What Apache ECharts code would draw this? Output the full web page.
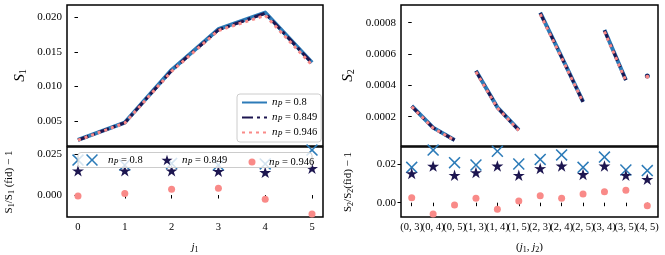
<!DOCTYPE html>
<html><head><meta charset="utf-8">
<script src="https://cdn.jsdelivr.net/npm/echarts@6/dist/echarts.min.js"></script>
<style>html,body{margin:0;padding:0;background:#fff}#c{width:665px;height:255px}</style>
</head><body><div id="c"></div>
<script>
// ---- data ----
const j1Values = [0, 1, 2, 3, 4, 5];
const nPValues = ['0.8', '0.849', '0.946'];
const S1_08  = [0.00225, 0.00478, 0.0124, 0.0183, 0.0207, 0.01345];
const S1_085 = [0.00224, 0.00476, 0.0123, 0.0182, 0.0206, 0.0134];
const S1_095 = [0.00222, 0.00470, 0.0122, 0.0181, 0.0203, 0.0131];
const R1_08  = [0.0213, 0.0183, 0.0193, 0.0183, 0.0190, 0.0274];
const R1_085 = [0.0148, 0.0148, 0.0148, 0.0145, 0.0138, 0.0163];
const R1_095 = [-0.0006, 0.0010, 0.0035, 0.0041, -0.0026, -0.0116];
const pairLabels = ['(0, 3)','(0, 4)','(0, 5)','(1, 3)','(1, 4)','(1, 5)','(2, 3)','(2, 4)','(2, 5)','(3, 4)','(3, 5)','(4, 5)'];
const pairJ1 = [0,0,0,1,1,1,2,2,2,3,3,4];
const S2_08  = [0.000268, 0.000130, 0.000051, 0.000493, 0.000260, 0.000115, 0.000864, 0.000582, 0.000296, 0.000753, 0.000434, 0.000460];
const S2_085 = [0.000266, 0.000129, 0.000050, 0.000491, 0.000258, 0.000114, 0.000862, 0.000580, 0.000295, 0.000751, 0.000433, 0.000459];
const S2_095 = [0.000263, 0.000127, 0.000049, 0.000486, 0.000255, 0.000112, 0.000854, 0.000575, 0.000292, 0.000744, 0.000428, 0.000455];
const R2_08  = [0.0183, 0.0272, 0.0207, 0.0195, 0.0266, 0.0200, 0.0224, 0.0247, 0.0183, 0.0236, 0.0169, 0.0166];
const R2_085 = [0.0151, 0.0189, 0.0142, 0.0156, 0.0190, 0.0142, 0.0177, 0.0190, 0.0146, 0.0190, 0.0142, 0.0121];
const R2_095 = [0.0026, -0.0058, -0.0012, 0.0023, -0.0034, 0.0009, 0.0036, 0.0023, 0.0045, 0.0057, 0.0064, -0.0016];
const S1Ticks = [0.005, 0.010, 0.015, 0.020];
const R1Ticks = [0.000, 0.025];
const S2Ticks = [0.0002, 0.0004, 0.0006, 0.0008];
const R2Ticks = [0.00, 0.02];

// ---- styles ----
const BLUE = '#2c7bb8', NAVY = '#1d1650', PINK = '#f98a88';
const FONT = 'Liberation Serif';
const xPath = 'path://M0,9L9,0L50,41L91,0L100,9L59,50L100,91L91,100L50,59L9,100L0,91L41,50Z';
function starPath() {
  let d = '';
  for (let i = 0; i < 10; i++) {
    const r = i % 2 ? 19 : 50;
    const a = (-90 + i * 36) * Math.PI / 180;
    d += (i ? 'L' : 'M') + (50 + r * Math.cos(a)).toFixed(2) + ',' + (50 + r * Math.sin(a)).toFixed(2);
  }
  return 'path://' + d + 'Z';
}
const STAR = starPath();

const chart = echarts.init(document.getElementById('c'), null, {renderer: 'canvas'});
const labelStyle = {fontFamily: FONT, fontSize: 11, color: '#000'};
const nameRich = {
  a: {fontFamily: FONT, fontSize: 15, fontStyle: 'italic', color: '#000'},
  b: {fontFamily: FONT, fontSize: 10, color: '#000', verticalAlign: 'bottom', padding: [6, 0, 0, 0]},
  c: {fontFamily: FONT, fontSize: 11, color: '#000'},
  ci: {fontFamily: FONT, fontSize: 11, fontStyle: 'italic', color: '#000'},
  cs: {fontFamily: FONT, fontSize: 8, color: '#000', padding: [5, 0, 0, 0]},
  n: {fontFamily: FONT, fontSize: 11, fontStyle: 'italic', color: '#000'},
  ns: {fontFamily: FONT, fontSize: 8, fontStyle: 'italic', color: '#000', padding: [5, 0, 0, 0]},
  v: {fontFamily: FONT, fontSize: 10.5, color: '#000'}
};
function mkY(gi, min, max, ticks, dec, nameStr, nameGap) {
  return {
    type: 'value', gridIndex: gi, min, max,
    axisLine: {show: false}, splitLine: {show: false},
    axisTick: {show: true, length: 3.5, lineStyle: {color: '#000', width: 1}, customValues: ticks},
    axisLabel: Object.assign({customValues: ticks, margin: 5, formatter: v => v.toFixed(dec)}, labelStyle),
    name: nameStr, nameLocation: 'middle', nameRotate: 90, nameGap,
    nameTextStyle: {rich: nameRich}
  };
}
function mkX(gi, min, max, ticks, show, fmt, nameStr) {
  return {
    type: 'value', gridIndex: gi, min, max,
    axisLine: {show: false}, splitLine: {show: false},
    axisTick: {show: show, length: 3.5, lineStyle: {color: '#000', width: 1}, customValues: ticks},
    axisLabel: Object.assign({show: show, customValues: ticks, margin: 5, formatter: fmt}, labelStyle, {fontSize: 10.5}),
    name: nameStr || '', nameLocation: 'middle', nameGap: 24,
    nameTextStyle: {rich: nameRich}
  };
}
const grids = [
  {left: 67, top: 5, width: 256, height: 141},
  {left: 67, top: 147, width: 256, height: 70},
  {left: 401, top: 5, width: 257, height: 141},
  {left: 401, top: 147, width: 257, height: 70}
].map(g => Object.assign({show: true, borderColor: '#000', borderWidth: 1.5, backgroundColor: 'transparent'}, g));

const jTickVals = j1Values.slice();
const pTickVals = pairLabels.map((_, i) => i);

const xAxes = [
  mkX(0, -0.235, 5.235, jTickVals, false, v => String(v)),
  mkX(1, -0.235, 5.235, jTickVals, true, v => String(Math.round(v)), '{ci|j}{cs|1}'),
  mkX(2, -0.5, 11.5, pTickVals, false, v => ''),
  {
    type: 'category', gridIndex: 3, data: pairLabels, boundaryGap: true,
    axisLine: {show: false}, splitLine: {show: false},
    axisTick: {show: true, alignWithLabel: true, interval: 0, length: 3.5, lineStyle: {color: '#000', width: 1}},
    axisLabel: Object.assign({interval: 0, margin: 5}, labelStyle, {fontSize: 10.5}),
    name: '{c|(}{ci|j}{cs|1}{c|, }{ci|j}{cs|2}{c|)}', nameLocation: 'middle', nameGap: 24,
    nameTextStyle: {rich: nameRich}
  }
];
const yAxes = [
  mkY(0, 0.00138, 0.0218, S1Ticks, 3, '{a|S}{b|1}', 39),
  mkY(1, -0.0134, 0.0293, R1Ticks, 3, '{c|S}{cs|1}{c|/S}{cs|1}{c| (fid) − 1}', 51),
  mkY(2, 0.0000128, 0.000913, S2Ticks, 4, '{a|S}{b|2}', 45),
  mkY(3, -0.0074, 0.0288, R2Ticks, 2, '{c|S}{cs|2}{c|/S}{cs|2}{c|(fid) − 1}', 46)
];

const lineStyles = [
  {color: BLUE, width: 4, type: 'solid'},
  {color: NAVY, width: 3, type: [11, 4, 3, 4]},
  {color: PINK, width: 3, type: [3, 4]}
];
const S1sets = [S1_08, S1_085, S1_095];
const R1sets = [R1_08, R1_085, R1_095];
const S2sets = [S2_08, S2_085, S2_095];
const R2sets = [R2_08, R2_085, R2_095];
const markers = [
  {symbol: xPath, size: 12, color: BLUE},
  {symbol: STAR, size: 12, color: NAVY},
  {symbol: 'circle', size: 7, color: PINK}
];

const series = [];
nPValues.forEach((np, k) => {
  series.push({
    type: 'line', name: 'line ' + np, xAxisIndex: 0, yAxisIndex: 0,
    data: j1Values.map((j, i) => [j, S1sets[k][i]]),
    symbol: 'none', lineStyle: Object.assign({cap: 'butt', join: 'round'}, lineStyles[k]),
    itemStyle: {color: lineStyles[k].color}, z: 2
  });
});
nPValues.forEach((np, k) => {
  series.push({
    type: 'scatter', name: 'pts ' + np, xAxisIndex: 1, yAxisIndex: 1,
    data: j1Values.map((j, i) => [j, R1sets[k][i]]),
    symbol: markers[k].symbol, symbolSize: markers[k].size, symbolKeepAspect: true,
    itemStyle: {color: markers[k].color, opacity: 1}, z: 2
  });
});
nPValues.forEach((np, k) => {
  const data = [];
  pairLabels.forEach((p, i) => {
    if (i > 0 && pairJ1[i] !== pairJ1[i - 1]) data.push([i - 0.5, '-']);
    const alone = (i === 0 || pairJ1[i - 1] !== pairJ1[i]) && (i === pairLabels.length - 1 || pairJ1[i + 1] !== pairJ1[i]);
    data.push({value: [i, S2sets[k][i]], symbolSize: alone ? 5 - k * 0.5 : 0});
  });
  series.push({
    type: 'line', name: 'r line ' + np, xAxisIndex: 2, yAxisIndex: 2,
    data, connectNulls: false, showSymbol: true, symbol: 'circle', symbolSize: 0,
    lineStyle: Object.assign({cap: 'butt', join: 'round'}, lineStyles[k]),
    itemStyle: {color: lineStyles[k].color}, z: 2
  });
});
nPValues.forEach((np, k) => {
  series.push({
    type: 'scatter', name: 'r pts ' + np, xAxisIndex: 3, yAxisIndex: 3,
    data: pairLabels.map((p, i) => [i, R2sets[k][i]]),
    symbol: markers[k].symbol, symbolSize: markers[k].size, symbolKeepAspect: true,
    itemStyle: {color: markers[k].color, opacity: 1}, z: 2
  });
});

const legendFmt = name => '{n|n}{ns|P}{v| = ' + name.split(' ').pop() + '}';
// bottom-left legend: one entry per legend so each icon keeps its own size
const ptsLegendPos = [
  {center: 92, size: 12, textX: 108},
  {center: 167, size: 11, textX: 182},
  {center: 252, size: 7, textX: 269}
];
const legends = [
  {
    data: nPValues.map(n => 'line ' + n), orient: 'vertical', left: 237, top: 94,
    itemWidth: 25, itemHeight: 10, itemGap: 3, padding: [3, 4, 3, 4],
    backgroundColor: 'rgba(255,255,255,0.8)', borderColor: '#ccc', borderWidth: 1, borderRadius: 3,
    formatter: legendFmt, textStyle: {rich: nameRich}, selectedMode: false,
    itemStyle: {opacity: 0}, z: 4
  }
];
nPValues.forEach((n, k) => {
  const p = ptsLegendPos[k];
  const left = p.center - p.size / 2;
  const extra = p.textX - (left + p.size + 5);
  const rich = Object.assign({}, nameRich, {
    n: Object.assign({}, nameRich.n, {padding: [0, 0, 0, Math.max(0, extra)]})
  });
  legends.push({
    data: ['pts ' + n], orient: 'horizontal', left, top: 160 - p.size / 2,
    itemWidth: p.size, itemHeight: p.size, padding: 0, symbolKeepAspect: true,
    formatter: legendFmt, textStyle: {rich}, selectedMode: false, z: 4
  });
});
chart.setOption({
  animation: false,
  grid: grids,
  xAxis: xAxes,
  yAxis: yAxes,
  series,
  legend: legends,
  graphic: [{
    type: 'rect', z: 3, silent: true,
    shape: {x: 78, y: 152.5, width: 234, height: 15, r: 3},
    style: {fill: 'rgba(255,255,255,0.8)', stroke: '#ccc', lineWidth: 1}
  }]
});
</script>
</body></html>
